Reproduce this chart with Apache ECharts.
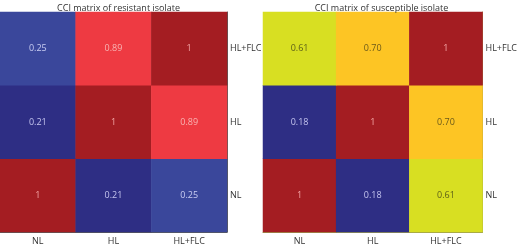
<!DOCTYPE html>
<html>
<head>
<meta charset="utf-8">
<script src="https://cdn.jsdelivr.net/npm/echarts@6/dist/echarts.min.js"></script>
<style>
  html, body { margin: 0; padding: 0; background: #fff; }
  #chart { width: 520px; height: 246px; }
</style>
</head>
<body>
<div id="chart"></div>
<script>
// axis categories (y goes bottom -> top)
var categories = ['NL', 'HL', 'HL+FLC']
var titles = ['CCI matrix of resistant isolate', 'CCI matrix of susceptible isolate']

// rows listed bottom (NL) to top (HL+FLC), columns NL, HL, HL+FLC
var resistantRows = [
  [1, 0.21, 0.25],
  [0.21, 1, 0.89],
  [0.25, 0.89, 1]
]
var susceptibleRows = [
  [1, 0.18, 0.61],
  [0.18, 1, 0.70],
  [0.61, 0.70, 1]
]

// cell colours per value
var cellColor = {
  '1': '#a41d22',
  '0.89': '#ee3a42',
  '0.25': '#3a479b',
  '0.21': '#2e2e84',
  '0.18': '#2e2e84',
  '0.7': '#fdc524',
  '0.61': '#d8df22'
}
var labelColor = {
  '1': '#f4a6a6',
  '0.89': '#f8b3b3',
  '0.25': '#c9cdf2',
  '0.21': '#c4c4ee',
  '0.18': '#c4c4ee',
  '0.7': '#6b5a1a',
  '0.61': '#5c5f18'
}

function buildData(rows) {
  var out = []
  rows.forEach(function (row, y) {
    row.forEach(function (v, x) {
      out.push({
        value: [x, y, v],
        itemStyle: { color: cellColor[String(v)] },
        label: { color: labelColor[String(v)] }
      })
    })
  })
  return out
}

var font = '"Open Sans", "Noto Sans", sans-serif'
var lefts = [0, 263]
var borders = ['#5a5a5a', '#9a9a50']

var chart = echarts.init(document.getElementById('chart'))
chart.setOption({
  animation: false,
  title: titles.map(function (t, i) {
    return {
      text: t,
      left: lefts[i] + 113.5,
      textAlign: 'center',
      top: -1,
      textStyle: { fontSize: 9, fontWeight: 'normal', color: '#333', fontFamily: font }
    }
  }),
  grid: lefts.map(function (l) {
    return { left: l, top: 12, width: 227, height: 221 }
  }),
  xAxis: lefts.map(function (l, i) {
    return {
      type: 'category',
      gridIndex: i,
      data: categories,
      axisTick: { show: false },
      axisLine: { show: true, lineStyle: { color: borders[i], width: 1 } },
      axisLabel: { fontSize: 9, color: '#333', margin: 5, fontFamily: font },
      splitLine: { show: false }
    }
  }),
  yAxis: lefts.map(function (l, i) {
    return {
      type: 'category',
      gridIndex: i,
      position: 'right',
      data: categories,
      axisTick: { show: false },
      axisLine: { show: true, lineStyle: { color: borders[i], width: 1 } },
      axisLabel: { fontSize: 9, color: '#333', margin: 3, fontFamily: font },
      splitLine: { show: false }
    }
  }),
  series: [resistantRows, susceptibleRows].map(function (rows, i) {
    return {
      type: 'heatmap',
      xAxisIndex: i,
      yAxisIndex: i,
      data: buildData(rows),
      label: {
        show: true,
        fontSize: 9,
        fontFamily: font,
        formatter: function (p) {
          var v = p.value[2]
          return v === 1 ? '1' : v.toFixed(2)
        }
      },
      itemStyle: { borderWidth: 0 },
      emphasis: { disabled: true }
    }
  })
})
</script>
</body>
</html>
